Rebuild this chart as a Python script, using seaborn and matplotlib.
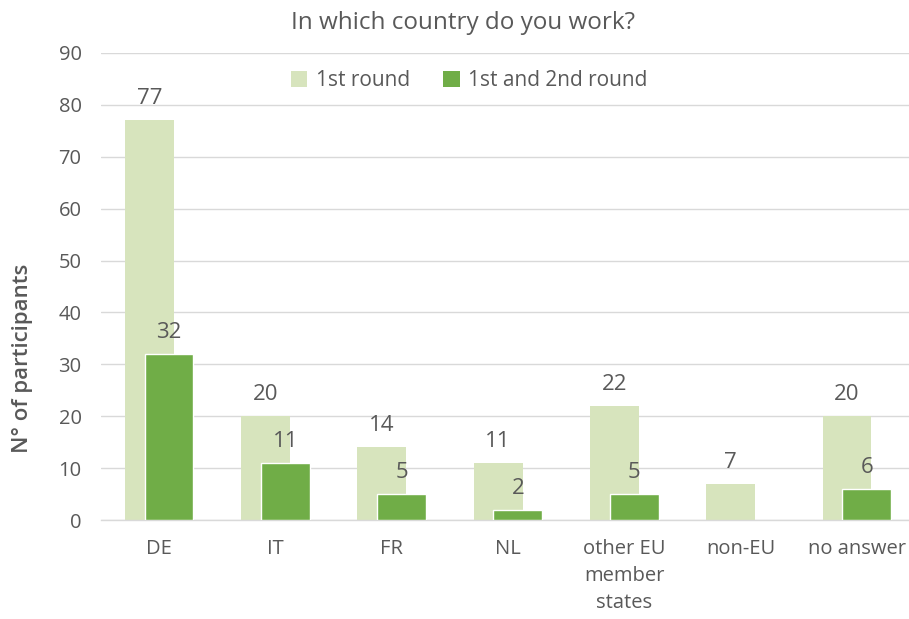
import numpy as np
import pandas as pd
import matplotlib
matplotlib.use("Agg")
import matplotlib.pyplot as plt
import seaborn as sns
from matplotlib.patches import Patch
from matplotlib.ticker import FixedLocator

countries = ["DE", "IT", "FR", "NL", "other EU\nmember\nstates", "non-EU", "no answer"]
first_round = [77, 20, 14, 11, 22, 7, 20]
both_rounds = [32, 11, 5, 2, 5, np.nan, 6]
series_names = ["1st round", "1st and 2nd round"]

light = "#D7E4BD"
dark = "#70AD47"
text_gray = "#595959"
grid_gray = "#D9D9D9"

sns.set_theme(style="white")
plt.rcParams["font.family"] = ["Open Sans", "DejaVu Sans"]

idx = np.arange(len(countries))
df1 = pd.DataFrame({"x": idx - 0.085, "y": first_round})
df2 = pd.DataFrame({"x": idx + 0.085, "y": both_rounds}).dropna()

fig = plt.figure(figsize=(9.09, 6.19), dpi=100)
ax = fig.add_axes([101 / 909, 99 / 619, 814 / 909, 467 / 619])

sns.barplot(data=df1, x="x", y="y", native_scale=True, width=0.42,
            color=light, saturation=1, edgecolor="none", ax=ax, zorder=2)
sns.barplot(data=df2, x="x", y="y", native_scale=True, width=0.42,
            color=dark, saturation=1, edgecolor="white", linewidth=1.0,
            ax=ax, zorder=3)

for cont in ax.containers:
    ax.bar_label(cont, fmt="%g", padding=8, fontsize=16, color=text_gray)

ax.set_xlim(-0.5, len(countries) - 0.5)
ax.set_ylim(0, 90)
ax.set_yticks(range(0, 91, 10))
ax.set_xticks(idx)
ax.set_xticklabels(countries, fontsize=14.5, color=text_gray, linespacing=1.45)
ax.xaxis.set_minor_locator(FixedLocator(np.arange(-0.5, len(countries), 1.0)))
ax.tick_params(axis="x", which="major", length=0, pad=14)
ax.tick_params(axis="x", which="minor", length=6, color=grid_gray, width=1)
ax.tick_params(axis="y", length=0, pad=14, labelsize=14.5, labelcolor=text_gray)

ax.yaxis.grid(True, color=grid_gray, linewidth=1)
ax.set_axisbelow(True)
for side in ["top", "right", "left"]:
    ax.spines[side].set_visible(False)
ax.spines["bottom"].set_color(grid_gray)
ax.spines["bottom"].set_linewidth(1)

ax.set_xlabel("")
ax.set_ylabel("N° of participants", fontsize=16, color=text_gray,
              fontweight="semibold", va="center")
ax.yaxis.set_label_coords(-0.097, 0.347)

fig.text(463 / 909, 1 - 23 / 619, "In which country do you work?",
         ha="center", va="center", fontsize=17.5, color=text_gray)

handles = [Patch(facecolor=light, edgecolor="none"),
           Patch(facecolor=dark, edgecolor="none")]
leg = fig.legend(handles, series_names, loc="center", ncol=2,
                 bbox_to_anchor=(469 / 909, 1 - 81 / 619), frameon=False,
                 fontsize=15, handlelength=0.8, handleheight=0.8,
                 handletextpad=0.4, columnspacing=1.6)
for t in leg.get_texts():
    t.set_color(text_gray)

fig.savefig("out.png", dpi=100, facecolor="white")
